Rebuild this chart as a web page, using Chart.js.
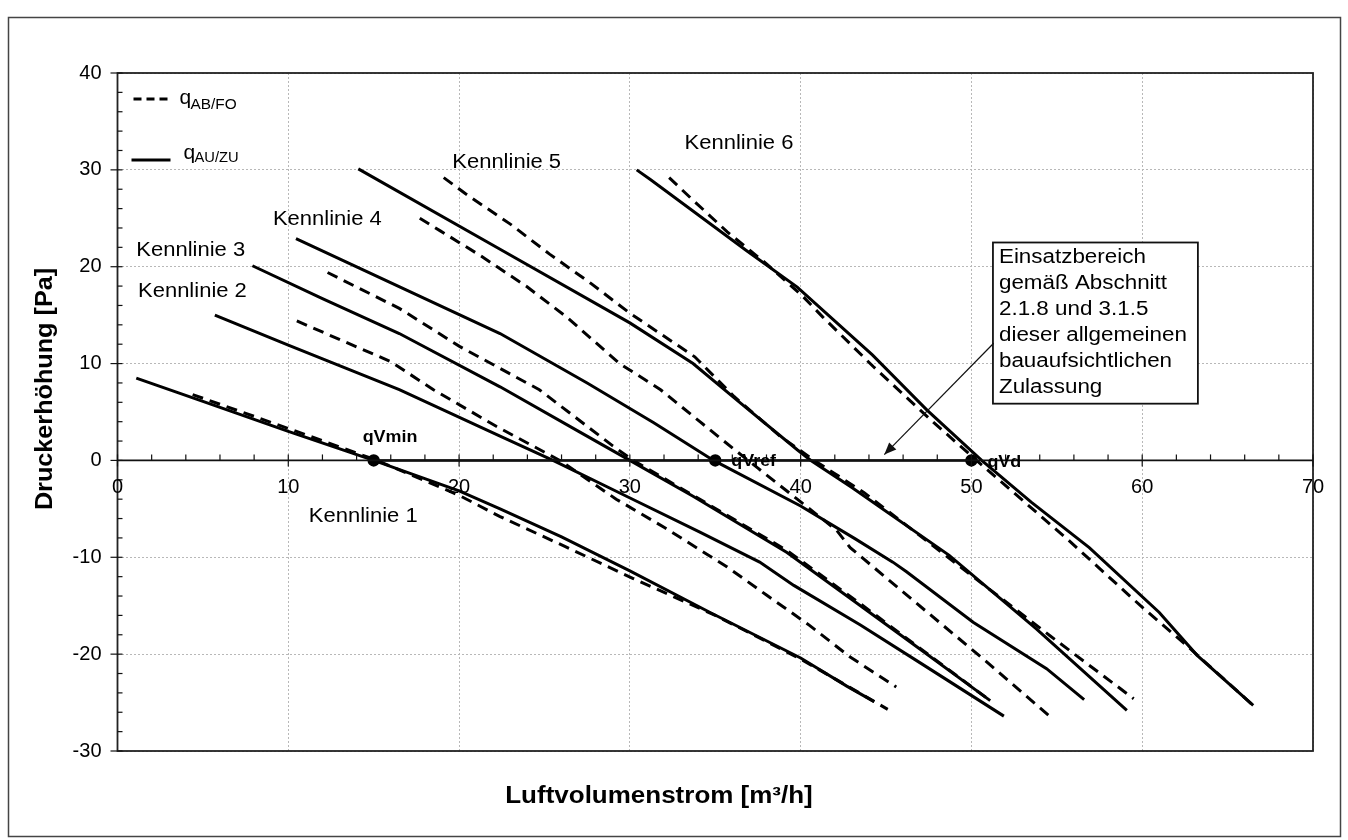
<!DOCTYPE html>
<html><head><meta charset="utf-8">
<script src="https://cdn.jsdelivr.net/npm/chart.js@4.4.0/dist/chart.umd.min.js"></script>
<style>html,body{margin:0;padding:0;background:#fff;}#wrap{position:relative;width:1348px;height:840px;}</style>
</head><body><div id="wrap"><canvas id="c" width="1348" height="840"></canvas></div>
<script>
// ---- data ----
const xTicks = [0,10,20,30,40,50,60,70];
const yTicks = [-30,-20,-10,0,10,20,30,40];

const k1SolidX  = [1.1, 5, 10, 15, 20, 22.4, 26, 30, 34.7, 40, 42.7, 44.3];
const k1SolidY  = [8.5, 6.1, 3.0, 0, -3.15, -5.0, -7.9, -11.4, -15.7, -20.4, -23.3, -24.9];
const k1DashX   = [4.4, 10, 15.2, 20, 22.4, 26.1, 30.2, 35, 40, 45.1];
const k1DashY   = [6.8, 3.3, 0, -3.6, -5.8, -8.8, -12.2, -16.0, -20.5, -25.7];

const k2SolidX  = [5.7, 10, 16.5, 22.4, 25.5, 29.8, 34.1, 37.6, 39.6, 43.5, 47, 51.9];
const k2SolidY  = [15.0, 11.9, 7.3, 2.5, 0, -3.7, -7.4, -10.5, -12.9, -17.0, -20.9, -26.4];
const k2DashX   = [10.5, 16, 18.5, 22.2, 25.9, 29.2, 32.0, 35.7, 38.0, 40.5, 42.9, 45.6];
const k2DashY   = [14.4, 10.2, 7.3, 3.5, 0, -4.0, -6.9, -11.0, -13.9, -17.0, -20.3, -23.4];

const k3SolidX  = [7.9, 12, 16.5, 22.4, 27, 30, 33.7, 39.2, 43.5, 47, 51.1];
const k3SolidY  = [20.1, 16.7, 13.1, 7.6, 3.0, 0, -3.7, -9.5, -15.0, -19.5, -24.8];
const k3DashX   = [12.3, 16.5, 20.05, 24.7, 29.0, 30.2, 33.7, 39.2, 43.5, 51.1];
const k3DashY   = [19.4, 15.7, 11.75, 7.3, 1.5, 0, -3.6, -9.3, -14.8, -24.8];

const k4SolidX  = [10.45, 22.4, 27.5, 31.4, 34.9, 40.0, 43.2, 45.4, 46.2, 50.1, 54.4, 56.6];
const k4SolidY  = [22.9, 13.1, 8.0, 3.9, 0, -4.7, -8.1, -10.5, -11.5, -16.7, -21.5, -24.7];
const k4DashX   = [17.7, 18.9, 21.2, 24.0, 26.3, 29.4, 31.8, 34.1, 36.0, 37.5, 39.8, 42.1, 42.9, 47.4, 50.7, 54.7];
const k4DashY   = [25.0, 23.7, 21.2, 17.9, 14.8, 10.0, 7.3, 4.0, 1.3, -0.8, -4.0, -7.2, -9.0, -15.65, -20.5, -26.6];

const k5SolidX  = [14.1, 22.4, 30.0, 33.7, 36.5, 39.8, 40.6, 43.0, 48.7, 53.8, 59.1];
const k5SolidY  = [30.1, 21.8, 14.2, 10.0, 5.9, 1.1, 0, -2.8, -9.8, -17.4, -25.8];
const k5DashX   = [19.1, 20.4, 23.0, 25.3, 27.7, 30.0, 33.8, 36.1, 38.8, 40.8, 43.7, 49.5, 54.6, 59.5];
const k5DashY   = [29.2, 27.5, 24.4, 21.3, 18.3, 15.2, 10.7, 6.6, 2.5, 0, -3.3, -11.2, -18.1, -24.6];

const k6SolidX  = [30.4, 31.2, 36.8, 39.8, 44.2, 47.4, 50.6, 53.5, 56.9, 61.0, 63.2, 66.5];
const k6SolidY  = [30.0, 29.0, 21.7, 17.9, 10.9, 5.2, 0, -4.3, -9.0, -15.7, -20.1, -25.3];
const k6DashX   = [32.3, 33.5, 35.7, 38.0, 40.15, 41.3, 44.25, 47.8, 50.3, 55.6, 59.9, 62.6, 66.5];
const k6DashY   = [29.2, 27.2, 23.6, 20.3, 16.9, 14.8, 9.7, 3.9, 0, -8.1, -15.0, -19.1, -25.3];

const qvX = [15, 35, 50];
const qvY = [0, 0, 0];
const qvLabels = ['qVmin', 'qVref', 'qVd'];

const curveNames = ['Kennlinie 1','Kennlinie 2','Kennlinie 3','Kennlinie 4','Kennlinie 5','Kennlinie 6'];
const curveLabelX = [11.2, 1.2, 1.1, 9.1, 19.6, 33.2];
const curveLabelY = [-5.75, 17.4, 21.7, 24.9, 30.8, 32.7];

const boxLines = ['Einsatzbereich','gemäß Abschnitt','2.1.8 und 3.1.5','dieser allgemeinen','bauaufsichtlichen','Zulassung'];
const xTitle = 'Luftvolumenstrom [m³/h]';
const yTitle = 'Druckerhöhung [Pa]';

// ---- build ----
const pts = (xs, ys) => xs.map((x, i) => ({x, y: ys[i]}));
const solid = (name, xs, ys) => ({label: name + ' qAU/ZU', data: pts(xs, ys), showLine: true, borderColor: '#000', borderWidth: 3, pointRadius: 0, tension: 0, fill: false});
const dashed = (name, xs, ys) => ({label: name + ' qAB/FO', data: pts(xs, ys), showLine: true, borderColor: '#000', borderWidth: 3, borderDash: [11, 7], pointRadius: 0, tension: 0, fill: false});

const datasets = [
  solid('K1', k1SolidX, k1SolidY), dashed('K1', k1DashX, k1DashY),
  solid('K2', k2SolidX, k2SolidY), dashed('K2', k2DashX, k2DashY),
  solid('K3', k3SolidX, k3SolidY), dashed('K3', k3DashX, k3DashY),
  solid('K4', k4SolidX, k4SolidY), dashed('K4', k4DashX, k4DashY),
  solid('K5', k5SolidX, k5SolidY), dashed('K5', k5DashX, k5DashY),
  solid('K6', k6SolidX, k6SolidY), dashed('K6', k6DashX, k6DashY),
  {label: 'qV', data: pts(qvX, qvY), showLine: true, borderColor: '#000', borderWidth: 2.4, pointRadius: 5, pointBackgroundColor: '#000', pointBorderColor: '#000', tension: 0}
];

const FONT = "'Liberation Sans', Arial, sans-serif";
function txt(ctx, s, x, y, size, opts = {}) {
  ctx.save();
  ctx.font = (opts.bold ? 'bold ' : '') + size + 'px ' + FONT;
  ctx.fillStyle = '#000';
  ctx.textAlign = opts.align || 'left';
  ctx.textBaseline = opts.baseline || 'middle';
  ctx.translate(x, y);
  if (opts.rot) ctx.rotate(opts.rot);
  ctx.scale(opts.sx || 1, 1);
  ctx.fillText(s, 0, 0);
  ctx.restore();
}

const decor = {
  id: 'decor',
  afterDraw(chart) {
    const ctx = chart.ctx, ca = chart.chartArea;
    const xs = chart.scales.x, ys = chart.scales.y;
    const y0 = ys.getPixelForValue(0);
    ctx.save();
    // plot border
    ctx.strokeStyle = '#222'; ctx.lineWidth = 1.8; ctx.setLineDash([]);
    ctx.strokeRect(ca.left, ca.top, ca.right - ca.left, ca.bottom - ca.top);
    // zero axis
    ctx.lineWidth = 1.8; ctx.strokeStyle = '#111';
    ctx.beginPath(); ctx.moveTo(ca.left, y0); ctx.lineTo(ca.right, y0); ctx.stroke();
    // x ticks on zero axis
    ctx.lineWidth = 1.2;
    for (let v = 0; v <= 70; v += 2) {
      const px = xs.getPixelForValue(v);
      const major = v % 10 === 0;
      ctx.beginPath(); ctx.moveTo(px, y0 - 6); ctx.lineTo(px, major ? y0 + 6 : y0); ctx.stroke();
    }
    // y ticks
    for (let v = -30; v <= 40; v += 2) {
      const py = ys.getPixelForValue(v);
      const major = v % 10 === 0;
      ctx.beginPath(); ctx.moveTo(major ? ca.left - 7 : ca.left, py); ctx.lineTo(ca.left + 5, py); ctx.stroke();
    }
    ctx.restore();
    // x tick labels below zero axis
    xTicks.forEach(v => txt(ctx, String(v), xs.getPixelForValue(v), y0 + 27, 20, {align: 'center'}));
    // curve labels
    curveNames.forEach((n, i) => txt(ctx, n, xs.getPixelForValue(curveLabelX[i]), ys.getPixelForValue(curveLabelY[i]), 20, {sx: 1.1}));
    // qV labels
    txt(ctx, qvLabels[0], xs.getPixelForValue(qvX[0]) - 11, y0 - 23, 16, {bold: true, sx: 1.12});
    txt(ctx, qvLabels[1], xs.getPixelForValue(qvX[1]) + 16, y0 + 1, 16, {bold: true, sx: 1.12});
    txt(ctx, qvLabels[2], xs.getPixelForValue(qvX[2]) + 16, y0 + 2, 16, {bold: true, sx: 1.12});
    // legend
    ctx.save();
    ctx.strokeStyle = '#000'; ctx.lineWidth = 3;
    ctx.setLineDash([8, 5]);
    ctx.beginPath(); ctx.moveTo(ca.left + 16, ca.top + 26); ctx.lineTo(ca.left + 50, ca.top + 26); ctx.stroke();
    ctx.setLineDash([]); ctx.lineWidth = 3;
    ctx.beginPath(); ctx.moveTo(ca.left + 14, ca.top + 87); ctx.lineTo(ca.left + 53, ca.top + 87); ctx.stroke();
    ctx.restore();
    txt(ctx, 'q', ca.left + 62, ca.top + 31, 21, {baseline: 'alphabetic'});
    txt(ctx, 'AB/FO', ca.left + 73, ca.top + 36, 14, {baseline: 'alphabetic', sx: 1.1});
    txt(ctx, 'q', ca.left + 66, ca.top + 86, 21, {baseline: 'alphabetic'});
    txt(ctx, 'AU/ZU', ca.left + 77, ca.top + 89, 14, {baseline: 'alphabetic', sx: 1.05});
    // annotation box + arrow
    const bx0 = xs.getPixelForValue(51.26), bx1 = xs.getPixelForValue(63.26);
    const by0 = ys.getPixelForValue(22.5), by1 = ys.getPixelForValue(5.86);
    ctx.save();
    ctx.fillStyle = '#fff'; ctx.fillRect(bx0, by0, bx1 - bx0, by1 - by0);
    ctx.strokeStyle = '#111'; ctx.lineWidth = 1.8; ctx.strokeRect(bx0, by0, bx1 - bx0, by1 - by0);
    const ax0 = xs.getPixelForValue(51.3), ay0 = ys.getPixelForValue(12.1);
    const ax1 = xs.getPixelForValue(44.9), ay1 = ys.getPixelForValue(0.6);
    ctx.lineWidth = 1.2;
    ctx.beginPath(); ctx.moveTo(ax0, ay0); ctx.lineTo(ax1, ay1); ctx.stroke();
    const ang = Math.atan2(ay1 - ay0, ax1 - ax0);
    ctx.fillStyle = '#111';
    ctx.beginPath();
    ctx.moveTo(ax1, ay1);
    ctx.lineTo(ax1 - 12 * Math.cos(ang) + 5 * Math.sin(ang), ay1 - 12 * Math.sin(ang) - 5 * Math.cos(ang));
    ctx.lineTo(ax1 - 12 * Math.cos(ang) - 5 * Math.sin(ang), ay1 - 12 * Math.sin(ang) + 5 * Math.cos(ang));
    ctx.closePath(); ctx.fill();
    ctx.restore();
    boxLines.forEach((l, i) => txt(ctx, l, bx0 + 6, by0 + 15 + i * 25.9, 20, {sx: 1.12}));
    // axis titles
    txt(ctx, xTitle, 659, 797, 23, {bold: true, align: 'center', sx: 1.13});
    txt(ctx, yTitle, 45, 389, 24, {bold: true, align: 'center', rot: -Math.PI / 2, sx: 1.05});
    // outer frame
    ctx.save();
    ctx.strokeStyle = '#444'; ctx.lineWidth = 1.5;
    ctx.strokeRect(8.5, 17.5, 1332, 819);
    ctx.restore();
  }
};

new Chart(document.getElementById('c'), {
  type: 'scatter',
  data: {datasets},
  options: {
    responsive: false,
    animation: false,
    devicePixelRatio: 1,
    layout: {padding: {left: 0, right: 35, top: 73, bottom: 89}},
    plugins: {legend: {display: false}, tooltip: {enabled: false}},
    scales: {
      x: {
        type: 'linear', min: 0, max: 70,
        ticks: {display: false, stepSize: 10},
        grid: {color: '#b8b8b8', lineWidth: 1, drawTicks: false},
        border: {display: false, dash: [2, 2]},
        afterFit(s) { s.height = 0; }
      },
      y: {
        type: 'linear', min: -30, max: 40,
        ticks: {stepSize: 10, color: '#000', padding: 16, font: {family: FONT, size: 20}},
        grid: {color: '#b8b8b8', lineWidth: 1, drawTicks: false},
        border: {display: false, dash: [2, 2]},
        afterFit(s) { s.width = 117.5; }
      }
    }
  },
  plugins: [decor]
});
</script></body></html>
